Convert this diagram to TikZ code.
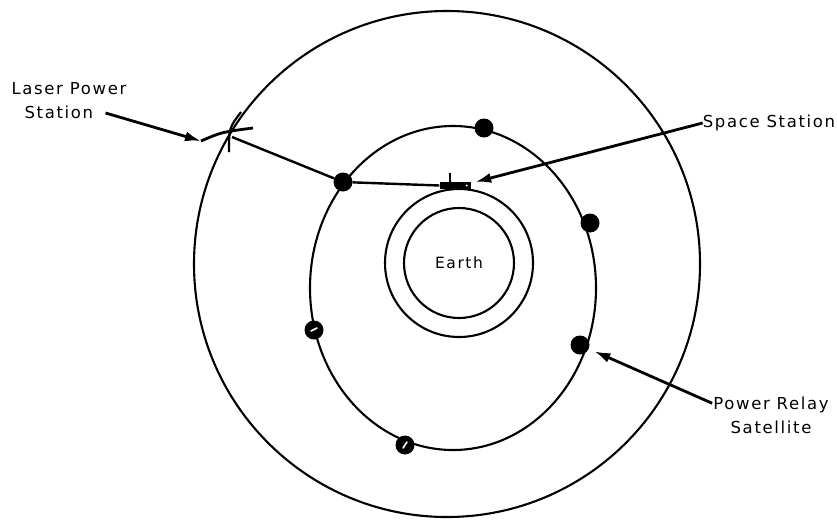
\documentclass[tikz,border=0pt]{standalone}
\usepackage{fontspec}
\setsansfont{DejaVu Sans}[LetterSpace=10]
\usetikzlibrary{arrows.meta,calc}
\tikzset{
  orbit line/.style={line width=2.1pt},
  earth node/.style={circle,draw,orbit line,minimum size=110pt,inner sep=0pt,
    font=\sffamily\fontsize{15.5}{18}\selectfont},
  sat node/.style={circle,fill=black,minimum size=19pt,inner sep=0pt},
  sat mark/.style={white,line width=1.6pt,line cap=round},
  station node/.style={rectangle,fill=black,minimum width=31pt,minimum height=7pt,
    inner sep=0pt},
  beam line/.style={line width=2.4pt},
  call out/.style={line width=2.8pt,-{Latex[length=16pt,width=10pt]}},
  tag/.style={font=\sffamily\fontsize{16.5}{24}\selectfont,align=left,inner sep=1pt}
}

\begin{document}
\begin{tikzpicture}[x=1pt,y=-1pt]
  \useasboundingbox (0,0) rectangle (837,520);
  % orbits and earth
  \draw[orbit line] (447,264) circle[radius=253];
  \draw[orbit line] (453,288) ellipse[x radius=143,y radius=162];
  \node[earth node] (earth) at (459,263) {Earth};
  \draw[orbit line] (earth.center) circle[radius=74];
  % relay satellites
  \node[sat node] (s1) at (484,128) {};
  \node[sat node] (s2) at (343,182) {};
  \node[sat node] (s3) at (590,223) {};
  \node[sat node] (s4) at (580,345) {};
  \node[sat node] (s5) at (314,330) {};
  \node[sat node] (s6) at (405,445) {};
  \draw[sat mark] ($(s5)+(-3,1)$) -- ($(s5)+(3,-2)$);
  \draw[sat mark] ($(s6)+(-2,3)$) -- ($(s6)+(2,-3)$);
  % space station
  \node[station node] (station) at (455,185.5) {};
  \draw[line width=2.4pt] ([xshift=-5pt]station.north) -- ++(0,-9);
  \fill[white] ([xshift=-4pt]station.east) circle[radius=1.2];
  % laser power station
  \coordinate (lps) at (232,137);
  \coordinate (lpsend) at (201,141);
  \draw[line width=2.8pt] (lpsend) .. controls (222,132) .. (253,128);
  \draw[line width=2.2pt] (241,112) .. controls (229,128) .. (229,152);
  \draw[beam line] (lps) -- (s2);
  \draw[beam line] (s2) -- (station.west);
  % labels
  \node[tag] (laser) at (69,101) {Laser Power\\\hspace*{13pt}Station};
  \node[tag] (spacest) at (769,123) {Space Station};
  \node[tag,align=center] (relay) at (771,415) {Power Relay\\Satellite};
  \draw[call out] ($(laser.east)+(-22,12)$) -- (lpsend);
  \draw[call out] ([xshift=1pt]spacest.west) -- ([shift={(4.5,-3.5)}]station.east);
  \draw[call out,shorten >=6pt] ($(relay.north west)!0.2!(relay.south west)$) -- (s4);
\end{tikzpicture}
\end{document}
